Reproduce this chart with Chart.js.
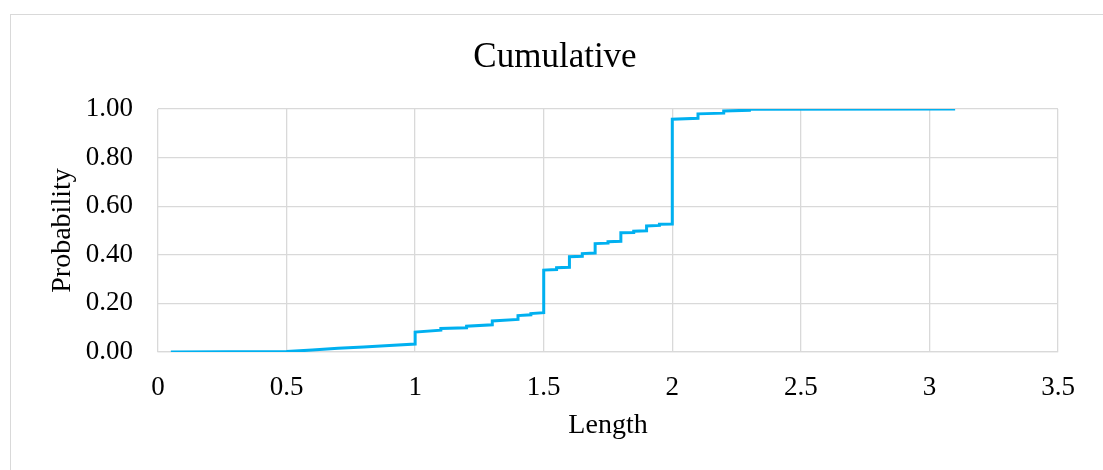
<!DOCTYPE html>
<html>
<head>
<meta charset="utf-8">
<script src="https://cdn.jsdelivr.net/npm/chart.js@4/dist/chart.umd.min.js"></script>
<style>
  html, body { margin: 0; padding: 0; background: #fff; }
  #wrap { position: absolute; left: 0; top: 0; width: 1103px; height: 470px; }
  #frame { position: absolute; left: 10px; top: 14px; width: 1100px; height: 470px; border: 1px solid #d9d9d9; box-sizing: border-box; }
  canvas { position: absolute; left: 0; top: 0; }
</style>
</head>
<body>
<div id="wrap">
  <div id="frame"></div>
  <canvas id="c" width="1103" height="470"></canvas>
</div>
<script>
const lengthValues = [0.05, 0.50, 0.60, 0.70, 0.80, 0.90, 1.00, 1.00, 1.10, 1.10, 1.20, 1.20, 1.30, 1.30, 1.40, 1.40, 1.45, 1.45, 1.50, 1.50, 1.55, 1.55, 1.60, 1.60, 1.65, 1.65, 1.70, 1.70, 1.75, 1.75, 1.80, 1.80, 1.85, 1.85, 1.90, 1.90, 1.95, 1.95, 2.00, 2.00, 2.10, 2.10, 2.20, 2.20, 2.30, 2.30, 3.10];
const probabilityValues = [0.000, 0.002, 0.008, 0.015, 0.021, 0.027, 0.033, 0.082, 0.090, 0.097, 0.100, 0.106, 0.112, 0.128, 0.134, 0.150, 0.153, 0.158, 0.162, 0.337, 0.339, 0.347, 0.349, 0.392, 0.394, 0.405, 0.407, 0.446, 0.448, 0.454, 0.456, 0.491, 0.492, 0.497, 0.499, 0.519, 0.521, 0.526, 0.527, 0.958, 0.962, 0.980, 0.983, 0.992, 0.995, 0.999, 1.000];
const xTickMin = 0, xTickMax = 3.5, xTickStep = 0.5;
const yTickMin = 0, yTickMax = 1, yTickStep = 0.2;

const points = lengthValues.map((x, i) => ({ x: x, y: probabilityValues[i] }));
const serif = "'Liberation Serif', 'Times New Roman', serif";

new Chart(document.getElementById('c'), {
  type: 'scatter',
  data: {
    datasets: [{
      data: points,
      showLine: true,
      borderColor: '#00b0f0',
      borderWidth: 3,
      pointRadius: 0,
      pointHoverRadius: 0,
      tension: 0,
      fill: false
    }]
  },
  options: {
    responsive: false,
    animation: false,
    layout: { padding: { left: 52, right: 45, top: 0, bottom: 14 } },
    plugins: {
      legend: { display: false },
      tooltip: { enabled: false },
      title: {
        display: true,
        text: 'Cumulative',
        color: '#000',
        font: { family: serif, size: 35, weight: 'normal' },
        padding: { top: 37, bottom: 30 }
      }
    },
    scales: {
      x: {
        type: 'linear',
        min: xTickMin, max: xTickMax,
        ticks: { stepSize: xTickStep, color: '#000', font: { family: serif, size: 27 }, padding: 20, maxRotation: 0,
                 callback: v => String(+v.toFixed(1)) },
        grid: { color: '#d9d9d9', lineWidth: 1.3, drawTicks: false },
        border: { display: true, color: '#d9d9d9', width: 1.3 },
        title: { display: true, text: 'Length', color: '#000', font: { family: serif, size: 28 }, padding: { top: 8, bottom: 14 } },
        afterFit: s => { s.height = 104; }
      },
      y: {
        type: 'linear',
        min: yTickMin, max: yTickMax,
        ticks: { stepSize: yTickStep, color: '#000', font: { family: serif, size: 27 }, padding: 25,
                 callback: v => v.toFixed(2) },
        grid: { color: '#d9d9d9', lineWidth: 1.3, drawTicks: false },
        border: { display: false },
        title: { display: true, text: 'Probability', color: '#000', font: { family: serif, size: 28 }, padding: { top: -6, bottom: 0 } },
        afterFit: s => { s.width = 106; }
      }
    }
  }
});
</script>
</body>
</html>
